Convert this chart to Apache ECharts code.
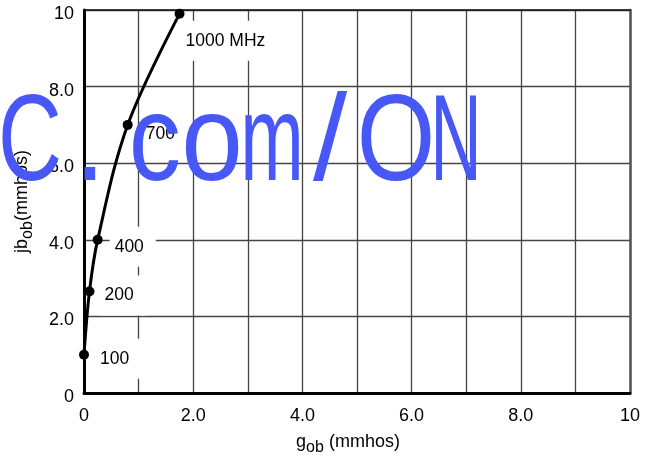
<!DOCTYPE html>
<html>
<head>
<meta charset="utf-8">
<script src="https://cdn.jsdelivr.net/npm/echarts@6/dist/echarts.min.js"></script>
<style>
  html, body { margin: 0; padding: 0; background: #fff; }
  #chart { width: 650px; height: 461px; }
</style>
</head>
<body>
<div id="chart"></div>
<script>
// Output admittance (g_ob + j b_ob) measured at several frequencies
const frequencies = ['100', '200', '400', '700', '1000 MHz'];
const gob = [0, 0.1, 0.25, 0.8, 1.75];          // mmhos
const jbob = [1.0, 2.65, 4.0, 7.0, 9.9];         // mmhos
const xTickLabels = ['0', '', '2.0', '', '4.0', '', '6.0', '', '8.0', '', '10'];
const yTickLabels = ['0', '2.0', '4.0', '6.0', '8.0', '10'];

// overlay stamp text
const stampChars = ['C', '.', 'c', 'o', 'm', '/', 'O', 'N'];

// pixel nudges for the frequency tags next to each point
const labelOffsets = [[6, 4], [5, 4], [7, 7], [8, 9], [-4, 27]];
// horizontal centre and width squeeze of each stamp glyph
const stampCenters = [30, 90, 155, 212, 272, 330, 396, 456];
const stampSqueeze = [0.72, 0.9, 0.85, 0.9, 0.62, 1.0, 0.82, 0.58];

const FONT = '"Liberation Sans", Arial, Helvetica, sans-serif';

const chart = echarts.init(document.getElementById('chart'), null, { renderer: 'canvas' });

const points = gob.map((g, i) => ({
  value: [g, jbob[i]],
  label: { formatter: frequencies[i], offset: labelOffsets[i] }
}));

const nameRich = {
  n: { fontSize: 18, fontFamily: FONT, color: '#000', lineHeight: 19, verticalAlign: 'top' },
  s: { fontSize: 16, fontFamily: FONT, color: '#000', lineHeight: 19, verticalAlign: 'top', padding: [7, 0, 0, 0] }
};

const gridLine = { show: true, lineStyle: { color: '#444', width: 1.3 } };

const stamp = stampChars.map((ch, i) => ({
  type: 'text', x: stampCenters[i], y: 146, scaleX: stampSqueeze[i], z: 100,
  style: {
    text: ch, fontSize: 123, fontFamily: '"Liberation Sans", Arial, sans-serif',
    fill: '#4758f7', verticalAlign: 'middle', align: 'center', blend: 'multiply'
  }
}));

chart.setOption({
  animation: false,
  backgroundColor: '#fff',
  grid: { left: 84, right: 20, top: 10, bottom: 67, containLabel: false },
  xAxis: [
    {
      type: 'value', min: 0, max: 10, interval: 1, position: 'bottom',
      axisLine: { show: true, onZero: false, lineStyle: { color: '#000', width: 3 } },
      axisTick: { show: false },
      splitLine: gridLine,
      axisLabel: {
        color: '#000', fontSize: 18, fontFamily: FONT, margin: 14,
        formatter: v => xTickLabels[Math.round(v)] || ''
      },
      name: '{n|g}{s|ob}{n| (mmhos)}',
      nameLocation: 'middle', nameGap: 40,
      nameTextStyle: { rich: nameRich, padding: [0, 18, 0, 0] }
    },
    {
      type: 'value', min: 0, max: 10, interval: 1, position: 'top',
      axisLine: { show: true, onZero: false, lineStyle: { color: '#111', width: 1.5 } },
      axisTick: { show: false }, axisLabel: { show: false }, splitLine: { show: false }
    }
  ],
  yAxis: [
    {
      type: 'value', min: 0, max: 10, interval: 2, position: 'left',
      axisLine: { show: true, onZero: false, lineStyle: { color: '#000', width: 3 } },
      axisTick: { show: false },
      splitLine: gridLine,
      axisLabel: {
        color: '#000', margin: 10,
        formatter: v => '{t|' + yTickLabels[Math.round(v / 2)] + '}',
        rich: { t: { fontSize: 18, fontFamily: FONT, color: '#000', padding: [8, 0, 0, 0] } }
      },
      name: '{n|jb}{s|ob}{n|(mmhos)}',
      nameLocation: 'middle', nameGap: 52, nameRotate: 90,
      nameTextStyle: { rich: nameRich }
    },
    {
      type: 'value', min: 0, max: 10, interval: 2, position: 'right',
      axisLine: { show: true, onZero: false, lineStyle: { color: '#555', width: 2.5 } },
      axisTick: { show: false }, axisLabel: { show: false }, splitLine: { show: false }
    }
  ],
  graphic: stamp,
  series: [
    {
      type: 'line', xAxisIndex: 0, yAxisIndex: 0, z: 5,
      data: points,
      smooth: 0.35,
      symbol: 'circle', symbolSize: 10,
      itemStyle: { color: '#000' },
      lineStyle: { color: '#000', width: 3 },
      label: {
        show: true, position: 'right', distance: 0,
        color: '#000', fontSize: 17.5, fontFamily: FONT,
        backgroundColor: '#fff', padding: [11, 12, 11, 5]
      }
    }
  ]
});
</script>
</body>
</html>
